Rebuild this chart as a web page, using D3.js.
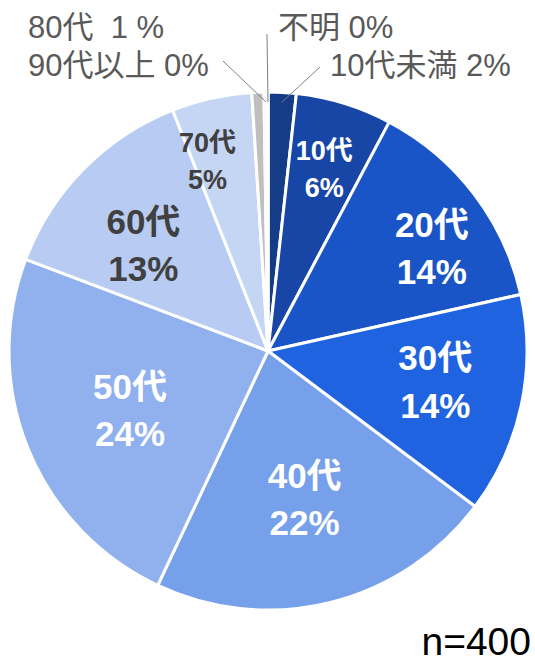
<!DOCTYPE html>
<html>
<head>
<meta charset="utf-8">
<script src="https://cdn.jsdelivr.net/npm/d3@7"></script>
<style>
  body { margin: 0; background: #fff; }
  svg { display: block; }
  text { font-family: "Liberation Sans", Arial, "Noto Sans CJK JP", sans-serif; }
</style>
</head>
<body>
<svg width="535" height="664"></svg>
<script>
// respondents by age group (n=400)
var categories = ["10代未満", "10代", "20代", "30代", "40代", "50代", "60代", "70代", "80代", "90代以上", "不明"];
var counts = [7, 24, 55, 55, 87, 95, 53, 20, 3, 1, 0];
var total = 400;
var colors = ["#153c86", "#1746a6", "#1a55c7", "#1f63e0", "#76a0ea", "#90b1ee", "#b8ccf3", "#c5d6f5", "#bfbfbf", "#ffffff", "#ffffff"];

var svg = d3.select("svg");
var cx = 268, cy = 351, radius = 259;

var g = svg.append("g").attr("transform", "translate(" + cx + "," + cy + ")");

var pie = d3.pie().sort(null).value(function (d) { return d; });
var arcs = pie(counts);
var arc = d3.arc().innerRadius(0).outerRadius(radius);

g.selectAll("path")
    .data(arcs)
    .enter().append("path")
    .attr("d", arc)
    .attr("fill", function (d, i) { return colors[i]; })
    .attr("stroke", "#fff")
    .attr("stroke-width", 3)
    .attr("stroke-linejoin", "round");

function pct(i) { return Math.round(counts[i] / total * 100) + "%"; }

// inside labels: [slice index, label radius, angle shift (deg), font size, colour]
var inside = [
    [1, 191, 0, 27, "#fff"],
    [2, 194, 5, 35, "#fff"],
    [3, 170, -2, 35, "#fff"],
    [4, 152, 0, 35, "#fff"],
    [5, 150, -1, 35, "#fff"],
    [6, 164, -4, 35, "#404040"],
    [7, 200, -5, 27, "#404040"]
];

inside.forEach(function (o) {
    var a = arcs[o[0]];
    var ang = (a.startAngle + a.endAngle) / 2 + o[2] * Math.PI / 180;
    var x = o[1] * Math.sin(ang), y = -o[1] * Math.cos(ang);
    var t = g.append("text")
        .attr("x", x).attr("y", y)
        .attr("text-anchor", "middle")
        .attr("font-weight", "bold")
        .attr("font-size", o[3])
        .attr("fill", o[4]);
    t.append("tspan").attr("x", x).attr("dy", -o[3] * 0.3).text(categories[o[0]]);
    t.append("tspan").attr("x", x).attr("dy", o[3] * 1.35).text(pct(o[0]));
});

// outside labels with leader lines
var outLabels = [
    { i: 8, text: categories[8] + "\u00a0\u00a01 %", x: 28, y: 38 },
    { i: 9, text: categories[9] + " " + pct(9), x: 28, y: 76 },
    { i: 10, text: categories[10] + " " + pct(10), x: 278, y: 38 },
    { i: 0, text: categories[0] + " " + pct(0), x: 330, y: 76 }
];

svg.selectAll("text.out")
    .data(outLabels)
    .enter().append("text")
    .attr("class", "out")
    .attr("x", function (d) { return d.x; })
    .attr("y", function (d) { return d.y; })
    .attr("font-size", 31)
    .attr("fill", "#595959")
    .text(function (d) { return d.text; });

var leaders = [
    [9, 223, 61],
    [10, 267, 34],
    [0, 320, 67]
];
leaders.forEach(function (l) {
    var a = arcs[l[0]];
    var p = d3.arc().innerRadius(radius - 10).outerRadius(radius - 10).centroid(a);
    svg.append("line")
        .attr("x1", l[1]).attr("y1", l[2])
        .attr("x2", cx + p[0]).attr("y2", cy + p[1])
        .attr("stroke", "#7f7f7f")
        .attr("stroke-width", 1);
});

svg.append("text")
    .attr("x", 531).attr("y", 655)
    .attr("text-anchor", "end")
    .attr("font-size", 39)
    .attr("fill", "#000")
    .text("n=" + total);
</script>
</body>
</html>
